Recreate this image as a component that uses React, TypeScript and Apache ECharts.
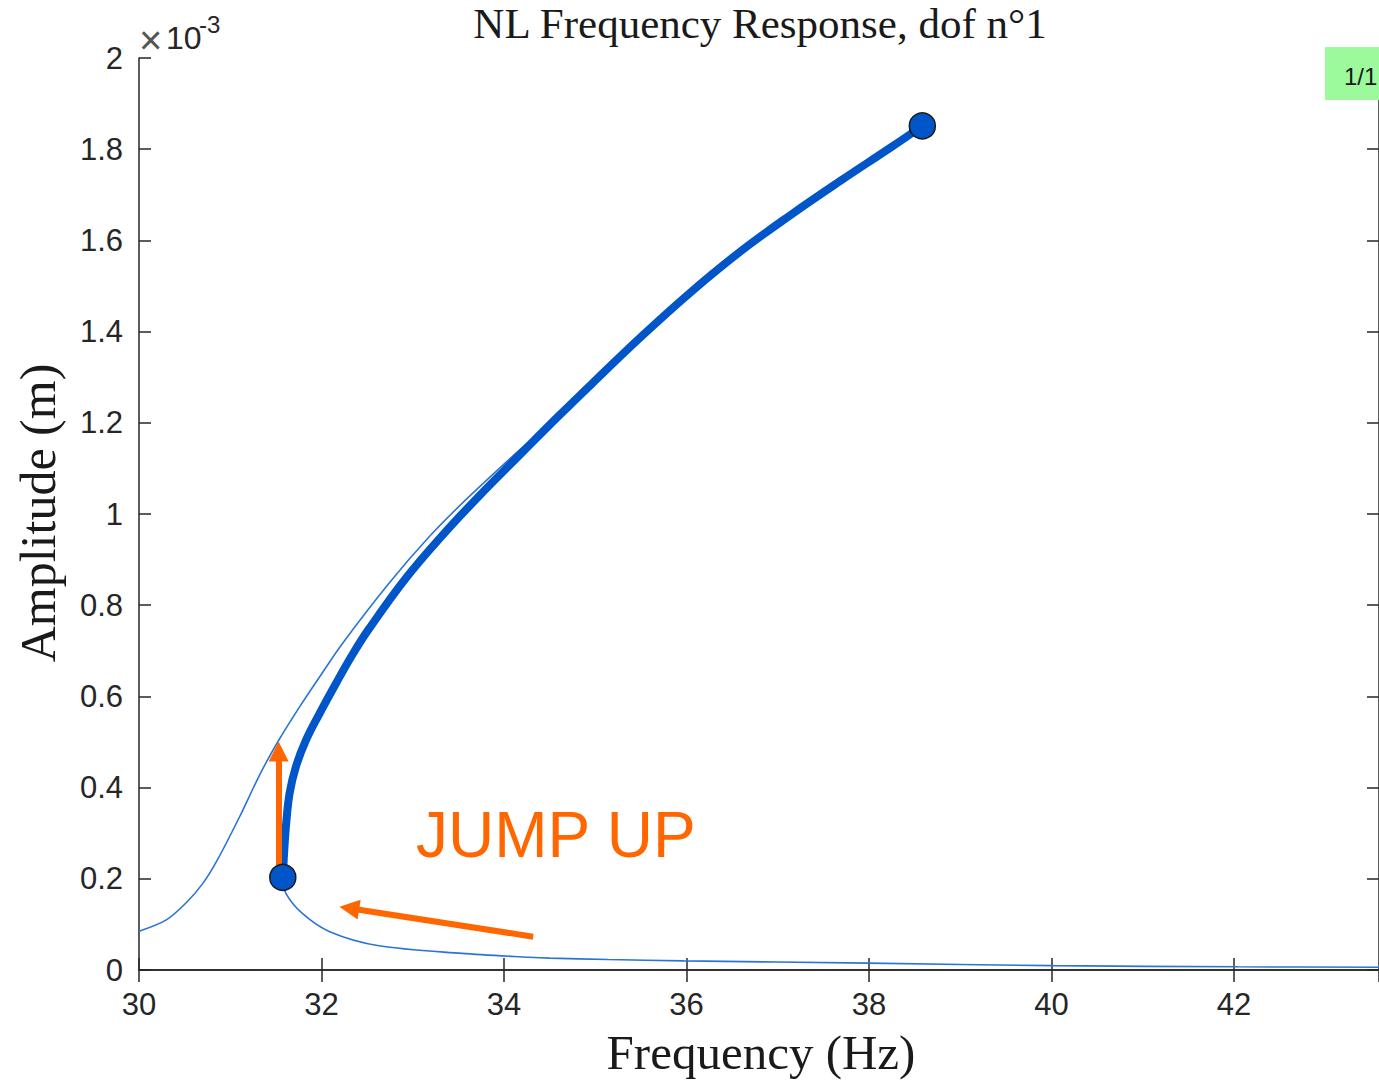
import React, { useEffect, useRef } from "react";
import * as echarts from "echarts";

// Frequency (Hz) and amplitude (m)
// stable upper branch (thin), running up to the resonance peak
const upperFreq = [30.0, 30.3, 30.52, 30.7, 30.85, 31.1, 31.32, 31.52, 31.76, 31.98, 32.23, 32.74, 33.18, 33.58, 34.09, 34.52, 34.96, 35.51, 36.05, 36.6, 37.15, 37.69, 38.24, 38.585];
const upperAmp = [0.085e-3, 0.11e-3, 0.148e-3, 0.19e-3, 0.238e-3, 0.335e-3, 0.427e-3, 0.5e-3, 0.577e-3, 0.643e-3, 0.716e-3, 0.848e-3, 0.95e-3, 1.031e-3, 1.126e-3, 1.203e-3, 1.285e-3, 1.39e-3, 1.487e-3, 1.577e-3, 1.657e-3, 1.731e-3, 1.804e-3, 1.851e-3];

// unstable branch (thick), from the fold up to the peak
const unstableFreq = [31.576, 31.59, 31.61, 31.65, 31.72, 31.83, 31.98, 32.16, 32.34, 32.52, 32.92, 33.32, 33.72, 34.2, 34.6, 34.96, 35.51, 36.05, 36.6, 37.15, 37.69, 38.24, 38.585];
const unstableAmp = [0.203e-3, 0.256e-3, 0.314e-3, 0.387e-3, 0.446e-3, 0.504e-3, 0.563e-3, 0.629e-3, 0.692e-3, 0.748e-3, 0.858e-3, 0.952e-3, 1.038e-3, 1.135e-3, 1.215e-3, 1.285e-3, 1.39e-3, 1.487e-3, 1.577e-3, 1.657e-3, 1.731e-3, 1.804e-3, 1.851e-3];

// stable lower branch (thin), from the fold to the end of the sweep
const lowerFreq = [31.576, 31.61, 31.79, 32.09, 32.63, 33.54, 34.27, 34.5, 35.14, 35.97, 38.0, 40.02, 42.05, 43.59];
const lowerAmp = [0.203e-3, 0.168e-3, 0.124e-3, 0.084e-3, 0.053e-3, 0.0365e-3, 0.028e-3, 0.026e-3, 0.023e-3, 0.02e-3, 0.015e-3, 0.0095e-3, 0.007e-3, 0.006e-3];

// fold point and peak markers
const markerFreq = [31.576, 38.585];
const markerAmp = [0.203e-3, 1.851e-3];

// annotation arrows: [from, to] in data units
const jumpArrow = [[31.53, 0.227e-3], [31.53, 0.479e-3]];
const sweepArrow = [[34.32, 0.073e-3], [32.304, 0.1355e-3]];

const xMin = 30;
const xMax = 43.59;
const xStep = 2;
const yMin = 0;
const yMax = 2e-3;
const yStep = 0.2e-3;

const titleText = "NL Frequency Response, dof n°1";
const xLabelText = "Frequency (Hz)";
const yLabelText = "Amplitude (m)";
const annotationText = "JUMP UP";
const pageText = "1/1";

const zip = (a: number[], b: number[]) => a.map((v, i) => [v, b[i]]);

const AXIS = "#262626";
const BLUE = "#0055c8";
const THIN = "#2a74d8";
const ORANGE = "#ff6600";
const SANS = "Liberation Sans, Arial, sans-serif";
const SERIF = "Liberation Serif, Times New Roman, serif";

export default function App() {
  const ref = useRef<HTMLDivElement>(null);
  useEffect(() => {
    if (!ref.current) return;
    const chart = echarts.init(ref.current, null, { renderer: "svg" });
    const axisCommon = {
      axisLine: { show: true, lineStyle: { color: AXIS, width: 1.5 } },
      axisTick: { show: true, inside: true, length: 12, lineStyle: { color: AXIS, width: 1.5 } },
      splitLine: { show: false },
    };
    const yFmt = (v: number) => String(parseFloat((v * 1000).toFixed(4)));
    chart.setOption({
      animation: false,
      backgroundColor: "#ffffff",
      grid: { left: 139, top: 58, width: 1244, height: 912, containLabel: false },
      xAxis: [
        {
          type: "value", min: xMin, max: xMax, interval: xStep, position: "bottom",
          ...axisCommon,
          axisLabel: { show: true, showMaxLabel: false, margin: 19, color: AXIS, fontSize: 31, fontFamily: SANS },
        },
        {
          type: "value", min: xMin, max: xMax, interval: xStep, position: "top",
          ...axisCommon,
          axisLabel: { show: false },
        },
      ],
      yAxis: [
        {
          type: "value", min: yMin, max: yMax, interval: yStep, position: "left",
          ...axisCommon,
          axisLabel: { show: true, margin: 16, color: AXIS, fontSize: 31, fontFamily: SANS, formatter: yFmt },
        },
        {
          type: "value", min: yMin, max: yMax, interval: yStep, position: "right",
          ...axisCommon,
          axisLabel: { show: false },
        },
      ],
      series: [
        {
          type: "line", data: zip(upperFreq, upperAmp), showSymbol: false, smooth: 0.3,
          lineStyle: { color: THIN, width: 1.6 }, z: 2, silent: true,
        },
        {
          type: "line", data: zip(lowerFreq, lowerAmp), showSymbol: false, smooth: 0.3,
          lineStyle: { color: THIN, width: 1.6 }, z: 2, silent: true,
        },
        {
          type: "line", data: zip(unstableFreq, unstableAmp), showSymbol: false, smooth: 0.4,
          lineStyle: { color: BLUE, width: 8, cap: "round" }, z: 3, silent: true,
        },
        {
          type: "scatter", data: zip(markerFreq, markerAmp), symbol: "circle", symbolSize: 26,
          itemStyle: { color: BLUE, borderColor: "#1a1a1a", borderWidth: 1.5, opacity: 1 }, z: 6, silent: true,
          markLine: {
            silent: true,
            symbol: ["none", "triangle"],
            symbolSize: [20, 20],
            label: { show: false },
            lineStyle: { color: ORANGE, width: 6, type: "solid" },
            emphasis: { disabled: true },
            data: [
              [{ coord: jumpArrow[0] }, { coord: jumpArrow[1] }],
              [{ coord: sweepArrow[0] }, { coord: sweepArrow[1] }],
            ],
            z: 5,
          },
        },
      ],
      graphic: [
        {
          type: "text", x: 760, y: 23, z: 10,
          style: { text: titleText, font: `43px ${SERIF}`, fill: "#1a1a1a", align: "center", verticalAlign: "middle" },
        },
        {
          type: "text", x: 761, y: 1052, z: 10,
          style: { text: xLabelText, font: `49px ${SERIF}`, fill: "#1a1a1a", align: "center", verticalAlign: "middle" },
        },
        {
          type: "text", x: 38, y: 513, rotation: Math.PI / 2, z: 10,
          style: { text: yLabelText, font: `50px ${SERIF}`, fill: "#1a1a1a", align: "center", verticalAlign: "middle" },
        },
        {
          type: "text", x: 139, y: 40, z: 10,
          style: { text: "×", font: `40px ${SANS}`, fill: "#555555", align: "left", verticalAlign: "middle" },
        },
        {
          type: "text", x: 166, y: 38, z: 10,
          style: { text: "10", font: `32px ${SANS}`, fill: AXIS, align: "left", verticalAlign: "middle" },
        },
        {
          type: "text", x: 199, y: 24, z: 10,
          style: { text: "-3", font: `24px ${SANS}`, fill: AXIS, align: "left", verticalAlign: "middle" },
        },
        {
          type: "text", x: 416, y: 835, z: 10,
          style: { text: annotationText, font: `64px ${SANS}`, fill: ORANGE, align: "left", verticalAlign: "middle" },
        },
        {
          type: "rect", shape: { x: 1325, y: 47, width: 60, height: 53 }, z: 20,
          style: { fill: "#9cfa9c" },
        },
        {
          type: "text", x: 1344, y: 76, z: 21,
          style: { text: pageText, font: `24px ${SANS}`, fill: "#1a1a1a", align: "left", verticalAlign: "middle" },
        },
      ],
    });
    return () => chart.dispose();
  }, []);
  return (
    <div
      ref={ref}
      style={{ position: "absolute", left: 0, top: 0, width: 1379, height: 1080, background: "#fff" }}
    />
  );
}
